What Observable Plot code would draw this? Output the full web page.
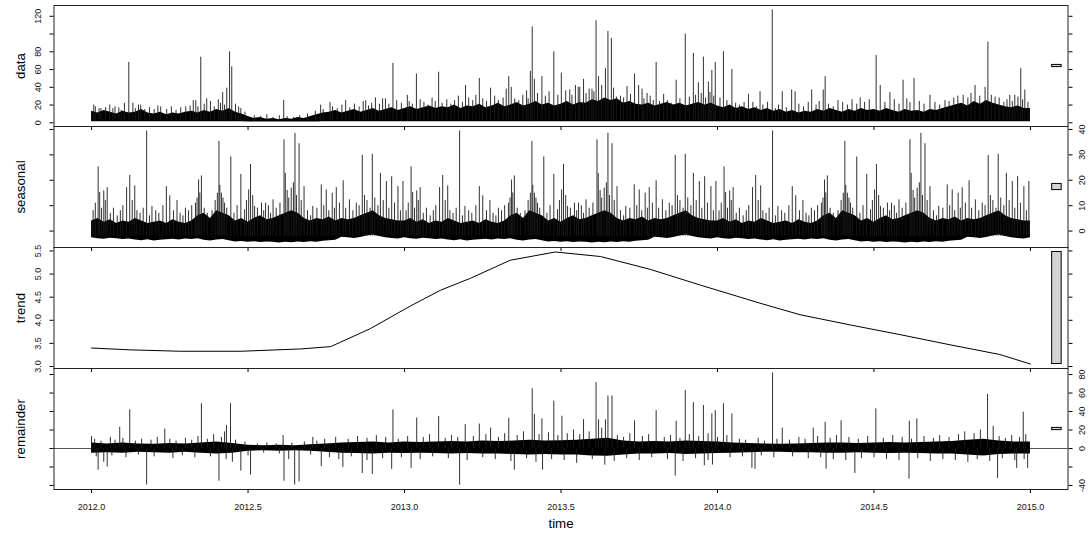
<!DOCTYPE html>
<html>
<head>
<meta charset="utf-8">
<script src="https://cdn.jsdelivr.net/npm/d3@7"></script>
<script src="https://cdn.jsdelivr.net/npm/@observablehq/plot@0.6"></script>
<style>
  body { margin: 0; background: #fff; font-family: "Liberation Sans", Arial, sans-serif; }
  #wrap { position: relative; width: 1091px; height: 539px; overflow: hidden; background: #fff; }
  .panel { position: absolute; left: 0; }
</style>
</head>
<body>
<div id="wrap"></div>
<script>
// ---------------- DATA ----------------
const xTicks = [2012.0, 2012.5, 2013.0, 2013.5, 2014.0, 2014.5, 2015.0];
const timeRange = [2012.0, 2015.0];

// "data" panel: dense core band, every 0.02 year from 2012.00 to 2015.00
const dataBandStart = 2012.0, dataBandStep = 0.02;
const dataBandHigh = [
  13,11,14,12,10,13,11,12,15,11,10,12,9,11,10,12,13,11,14,12,15,13,16,12,10,
  7,5,6,4,5,3.5,5,4,6,5,7,9,11,
  12,14,11,13,15,12,14,16,13,15,17,14,
  16,18,15,17,19,16,18,17,20,16,19,18,21,17,19,22,18,20,23,19,21,24,20,22,19,
  21,24,20,23,22,26,24,28,25,27,22,24,21,
  20,22,19,21,23,20,22,19,21,23,20,22,
  19,17,20,16,18,15,17,14,16,13,15,12,14,
  11,13,12,15,13,16,14,12,15,13,16,14,
  15,13,16,14,12,15,13,14,12,15,14,16,18,
  20,22,19,24,21,25,22,20,18,17,19,16,
  16];
const dataBandLowLevel = [1.3, 0.9, 1.3];               // bottom edge levels
const dataBandLowFrom  = [2012.0, 2012.5, 2012.74];     // where each level begins

// "data" panel: tall spikes (time, peak)
const dataSpikeTime = [2012.007,2012.030,2012.068,2012.087,2012.119,2012.132,2012.157,2012.221,2012.301,2012.333,
  2012.349,2012.368,2012.419,2012.432,2012.441,2012.448,2012.477,2012.614,2012.732,2012.762,
  2012.812,2012.876,2012.907,2012.939,2012.963,2013.009,2013.038,2013.109,2013.195,2013.239,
  2013.275,2013.333,2013.341,2013.402,2013.408,2013.415,2013.439,2013.477,2013.501,2013.528,
  2013.546,2013.560,2013.572,2013.599,2013.612,2013.620,2013.642,2013.650,2013.661,2013.677,
  2013.711,2013.735,2013.748,2013.759,2013.775,2013.804,2013.828,2013.868,2013.897,2013.923,
  2013.939,2013.955,2013.971,2013.982,2013.993,2014.019,2014.046,2014.099,2014.113,2014.136,
  2014.160,2014.175,2014.207,2014.237,2014.248,2014.301,2014.338,2014.344,2014.385,2014.456,
  2014.507,2014.520,2014.551,2014.593,2014.628,2014.679,2014.727,2014.768,2014.800,2014.823,
  2014.855,2014.864,2014.887,2014.934,2014.950,2014.969,2014.982];
const dataSpikeValue = [20,16,16,17,68,22,20,18,18,25,
  74,27,34,39,80,63,16,25,20,23,
  25,25,28,27,67,31,55,57,42,50,
  39,52,40,58,108,49,52,80,56,37,
  42,40,49,38,115,52,61,103,95,29,
  41,55,42,38,33,68,32,48,100,78,
  45,74,46,59,68,80,60,32,23,35,
  23,127.1,35,37,35,37,37,52,25,28,
  76,42,34,48,50,31,25,30,28,42,
  40,91,29,31,31,61,37];
// "data" panel: smaller spikes on the ragged top of the band
const dataMinorTime = [2012.012,2012.024,2012.045,2012.058,2012.075,2012.095,2012.105,2012.140,2012.150,2012.170,
  2012.185,2012.200,2012.212,2012.240,2012.255,2012.270,2012.285,2012.315,2012.325,2012.340,
  2012.360,2012.380,2012.392,2012.405,2012.412,2012.425,2012.460,2012.470,2012.490,2012.520,
  2012.540,2012.560,2012.580,2012.600,2012.625,2012.645,2012.665,2012.690,2012.715,2012.740,
  2012.770,2012.785,2012.800,2012.825,2012.840,2012.855,2012.868,2012.885,2012.895,2012.920,
  2012.930,2012.950,2012.975,2012.990,2013.015,2013.025,2013.050,2013.062,2013.075,2013.088,
  2013.098,2013.120,2013.135,2013.148,2013.160,2013.172,2013.185,2013.205,2013.218,2013.228,
  2013.250,2013.262,2013.288,2013.300,2013.315,2013.325,2013.352,2013.365,2013.378,2013.390,
  2013.395,2013.425,2013.450,2013.462,2013.490,2013.515,2013.535,2013.555,2013.580,2013.590,
  2013.605,2013.630,2013.668,2013.690,2013.700,2013.722,2013.765,2013.785,2013.795,2013.815,
  2013.840,2013.852,2013.880,2013.910,2013.930,2013.948,2013.962,2013.976,2013.988,2014.008,
  2014.030,2014.058,2014.070,2014.085,2014.125,2014.145,2014.185,2014.195,2014.220,2014.260,
  2014.275,2014.290,2014.315,2014.325,2014.355,2014.370,2014.400,2014.415,2014.430,2014.445,
  2014.470,2014.485,2014.535,2014.565,2014.580,2014.605,2014.615,2014.645,2014.660,2014.695,
  2014.710,2014.740,2014.755,2014.785,2014.810,2014.838,2014.875,2014.900,2014.915,2014.925,
  2014.942,2014.960,2014.975,2014.992];
const dataMinorValue = [18,16,17,20,18,14,22,16,20,15,
  17,15,19,15,18,14,17,19,25,18,
  21,24,18,26,22,20,21,18,12,8,
  7,9,6,8,7,6,8,10,13,15,
  18,16,20,17,21,18,24,19,22,21,
  27,21,25,22,24,21,26,23,20,28,
  24,22,26,21,25,30,23,28,25,31,
  27,24,30,25,28,38,27,25,31,36,
  27,33,30,35,31,36,31,40,33,38,
  35,42,39,30,28,32,27,30,25,24,
  25,22,27,29,31,33,28,34,30,28,
  25,22,20,23,18,20,16,20,17,21,
  18,23,20,24,21,18,23,20,26,21,
  23,26,23,26,21,27,23,24,21,23,
  20,24,28,31,33,30,31,28,23,26,
  24,29,26,23];

// "seasonal" panel: one-year periodic pattern, band every 0.02 of a year
const seasBandStep = 0.02;
const seasBandHigh = [4,5,3.5,4.5,3,4,3.5,5,4,3,
  3.5,4,3,4.5,3.5,3,4,6,7,5,
  8,7,6,4,5,3.5,5,6,4.5,5,
  6,7,8,7,5,4,5,4.5,5.5,4,
  5,4.5,5,6,7,8,6,5,4.5,4,
  4];
const seasBandLow = [-2.6,-3,-3.2,-2.8,-3,-3.3,-3.1,-3.5,-3.8,-3.4,
  -3.9,-3.6,-3.4,-3.2,-3.5,-3.1,-3.3,-3.0,-3.6,-3.9,
  -3.5,-3.3,-3.8,-4.3,-4.1,-4.4,-4.2,-4.5,-4.3,-4.4,
  -4.7,-4.4,-4.6,-4.3,-4.5,-4.2,-4.4,-4.0,-3.8,-3.6,
  -2.4,-2.6,-2.9,-2.5,-1.9,-1.5,-2.1,-2.6,-2.9,-3.1,
  -2.6];
const seasSpikePhase = [0.021,0.026,0.039,0.050,0.112,0.122,0.138,0.176,0.193,0.239,
  0.250,0.273,0.300,0.332,0.342,0.351,0.402,0.407,0.415,0.425,
  0.445,0.477,0.489,0.502,0.508,0.521,0.543,0.556,0.580,0.615,
  0.619,0.638,0.645,0.650,0.663,0.679,0.707,0.734,0.750,0.769,
  0.782,0.804,0.824,0.846,0.865,0.897,0.923,0.942,0.959,0.979,0.995];
const seasSpikeValue = [25.3,15.2,15.8,17.1,17.1,21.9,17.8,39.4,9.7,17.5,
  13.9,12.0,9.0,11.0,20.1,21.7,14.9,35.3,14.9,11.0,
  29.2,22.3,8.4,16.2,26.2,9.7,11.0,11.0,12.3,35.9,
  22.7,16.9,19.0,38.5,34.4,17.5,9.7,18.2,16.2,14.9,
  17.1,19.8,12.3,11.0,29.8,30.2,22.7,19.5,21.4,17.5,19.5];
const seasMinorPhase = [0.005,0.012,0.032,0.044,0.060,0.070,0.082,0.092,0.100,0.130,
  0.145,0.155,0.165,0.185,0.205,0.215,0.228,0.262,0.283,0.292,
  0.310,0.320,0.337,0.346,0.360,0.370,0.385,0.395,0.410,0.420,
  0.432,0.455,0.465,0.495,0.515,0.530,0.550,0.565,0.572,0.590,
  0.602,0.625,0.630,0.655,0.670,0.690,0.700,0.720,0.742,0.758,
  0.776,0.792,0.812,0.835,0.855,0.872,0.880,0.890,0.905,0.915,
  0.932,0.950,0.968,0.987];
const seasMinorValue = [8,11,9,12,7,9,6,8,10,12,
  8,7,9,6,8,7,10,8,7,6,
  8,10,13,15,9,7,8,12,18,13,
  9,7,10,12,14,9,8,10,7,9,
  11,16,13,14,12,8,6,9,10,8,
  9,11,9,8,10,14,12,9,13,10,
  12,9,11,8];

// "trend" panel
const trendTime = [2012.000,2012.125,2012.285,2012.477,2012.668,2012.764,2012.891,2013.019,2013.115,2013.211,
  2013.338,2013.482,2013.626,2013.786,2013.946,2014.136,2014.264,2014.424,2014.583,2014.743,2014.902,2015.000];
const trendValue = [3.40,3.36,3.33,3.33,3.38,3.43,3.82,4.31,4.65,4.91,
  5.30,5.478,5.38,5.10,4.76,4.37,4.12,3.90,3.69,3.47,3.26,3.054];

// "remainder" panel: dense band every 0.05 year
const remBandStep = 0.05;
const remBandHigh = [6,5,6,5,4.5,5.5,5,6,7,5.5,
  3.5,3,3.5,3,4,5,6,6.5,7,6,
  7,6.5,7,7.5,7,8,7.5,8,9,8,
  8.5,9,10,11,8,7,7.5,7,8,7.5,
  7,6,5.5,5,4.5,5,5.5,6,6,5.5,
  6,6.5,6,6.5,7,7.5,9,10,8,7,
  7];
const remBandLow = [-5,-4.5,-5,-4,-4.5,-5,-4,-5,-6,-5,
  -3,-2.5,-3,-2.5,-3,-4,-5,-5.5,-6,-5,
  -5.5,-5,-5.5,-6,-5.5,-6,-6,-6.5,-7,-6.5,
  -7,-7,-8,-8.5,-7,-6,-6,-5.5,-6.5,-6,
  -5.5,-5,-4.5,-4,-4,-4.5,-4.5,-5,-5,-4.5,
  -5,-5.5,-5,-5.5,-6,-6,-7,-8,-6.5,-6,
  -6];
const remSpikeTime = [2012.000,2012.090,2012.122,2012.234,2012.351,2012.431,2012.444,2012.612,2012.707,2012.963,
  2013.039,2013.109,2013.194,2013.239,2013.275,2013.333,2013.408,2013.415,2013.439,2013.477,
  2013.503,2013.572,2013.612,2013.620,2013.642,2013.650,2013.663,2013.735,2013.804,2013.868,
  2013.897,2013.923,2013.955,2013.982,2013.993,2014.019,2014.046,2014.176,2014.207,2014.306,
  2014.344,2014.395,2014.506,2014.613,2014.637,2014.863,2014.881,2014.977,
  2012.021,2012.039,2012.050,2012.176,2012.407,2012.477,2012.508,2012.615,2012.649,2012.663,
  2012.734,2012.803,2012.865,2012.897,2012.959,2013.021,2013.176,2013.351,2013.441,2013.865,
  2013.958,2013.984,2014.110,2014.120,2014.347,2014.439,2014.612,2014.895,2014.956,2014.991];
const remSpikeValue = [13,23,41.8,21,48.4,25,48.4,14,12,41.8,
  33,34.5,25.8,26.5,22,32.7,64.7,36.7,32,51.3,
  34.9,31.2,71.3,31,31,56.8,56.8,30,41,29.5,
  62.9,49.5,46.5,37.4,41,48.4,37.4,81.7,22,22,
  28.4,30,42.9,29.5,32,58.5,24,39.3,
  -23.4,-15,-20,-39.5,-35.4,-24.5,-28.8,-35.4,-39.5,-36,
  -19.7,-20.4,-27,-28,-22.6,-21.5,-39.5,-23.4,-23.4,-29.9,
  -18.6,-17.9,-21.5,-22.6,-22.3,-27,-33.2,-32.4,-21.5,-21.5];
const remMinorTime = [2012.010,2012.030,2012.060,2012.075,2012.100,2012.140,2012.160,2012.190,2012.210,2012.250,
  2012.270,2012.300,2012.320,2012.340,2012.370,2012.390,2012.415,2012.425,2012.460,2012.490,
  2012.530,2012.560,2012.590,2012.640,2012.680,2012.720,2012.745,2012.780,2012.820,2012.850,
  2012.880,2012.910,2012.940,2012.980,2013.010,2013.060,2013.080,2013.130,2013.150,2013.170,
  2013.220,2013.260,2013.300,2013.320,2013.360,2013.380,2013.430,2013.460,2013.490,2013.520,
  2013.540,2013.560,2013.590,2013.630,2013.680,2013.700,2013.720,2013.760,2013.780,2013.830,
  2013.850,2013.880,2013.910,2013.940,2013.970,2014.000,2014.030,2014.070,2014.090,2014.130,
  2014.150,2014.190,2014.230,2014.260,2014.280,2014.320,2014.360,2014.380,2014.420,2014.450,
  2014.480,2014.530,2014.560,2014.590,2014.620,2014.660,2014.690,2014.710,2014.740,2014.770,
  2014.790,2014.820,2014.840,2014.900,2014.920,2014.940,2014.965,2014.985,
  2012.015,2012.065,2012.110,2012.150,2012.200,2012.260,2012.290,2012.330,2012.380,2012.430,
  2012.450,2012.500,2012.550,2012.600,2012.630,2012.700,2012.760,2012.790,2012.830,2012.880,
  2012.930,2012.990,2013.050,2013.090,2013.140,2013.200,2013.250,2013.290,2013.340,2013.390,
  2013.420,2013.470,2013.510,2013.550,2013.600,2013.640,2013.670,2013.710,2013.750,2013.790,
  2013.840,2013.890,2013.930,2013.970,2014.040,2014.080,2014.140,2014.180,2014.240,2014.290,
  2014.330,2014.370,2014.410,2014.460,2014.500,2014.540,2014.580,2014.640,2014.680,2014.720,
  2014.760,2014.800,2014.830,2014.870,2014.910,2014.950,2014.980];
const remMinorValue = [10,8,12,9,11,8,10,9,12,10,
  8,11,9,13,10,15,12,18,9,7,
  5,6,5,6,7,8,10,12,10,13,
  11,14,12,10,13,12,15,11,14,12,
  13,15,12,16,14,18,15,17,14,16,
  20,15,18,22,14,12,16,13,15,12,
  14,11,15,13,16,12,14,10,9,11,
  8,10,9,12,10,13,11,14,12,10,
  13,11,14,12,10,13,11,14,12,15,
  18,16,20,13,11,14,12,15,
  -9,-8,-10,-7,-9,-11,-8,-10,-9,-12,
  -15,-8,-5,-6,-12,-7,-10,-12,-9,-13,
  -11,-10,-12,-9,-11,-13,-10,-12,-14,-11,
  -15,-12,-13,-16,-12,-18,-14,-11,-13,-10,
  -12,-14,-11,-13,-10,-9,-8,-10,-9,-11,
  -10,-12,-13,-11,-10,-12,-13,-11,-14,-12,
  -13,-15,-12,-14,-11,-13,-12];

const dataTicks = [0,20,40,60,80,100,120];
const dataTickLabels = ["0","20","40","60","80","","120"];
const seasTicks = [0,10,20,30,40];
const trendTicks = [3.0,3.5,4.0,4.5,5.0,5.5];
const remTicks = [-40,-20,0,20,40,60,80];
const remTickLabels = ["-40","","0","20","40","60","80"];

// ---------------- BUILD TABLES ----------------
const years = [2012, 2013, 2014];
const zipTV = (T, V) => T.map((t, i) => ({t, v: V[i]}));
const round = t => Math.round(t * 1000) / 1000;
const lowAt = t => { let k = 0; dataBandLowFrom.forEach((f, j) => { if (t >= f - 1e-9) k = j; }); return dataBandLowLevel[k]; };
const dataBand = dataBandHigh.map((hi, i) => { const t = round(dataBandStart + i * dataBandStep); return {t, lo: lowAt(t), hi}; });
const dataSpikes = zipTV(dataSpikeTime, dataSpikeValue).concat(zipTV(dataMinorTime, dataMinorValue));
const seasBand = years.flatMap(y => seasBandHigh.map((hi, i) => ({t: y + i * seasBandStep, lo: seasBandLow[i], hi})))
  .filter(d => d.t <= 2015.0001);
const seasSpikes = years.flatMap(y => zipTV(seasSpikePhase, seasSpikeValue).concat(zipTV(seasMinorPhase, seasMinorValue))
  .map(d => ({t: y + d.t, v: d.v})));
const trend = zipTV(trendTime, trendValue);
const remBand = remBandHigh.map((hi, i) => ({t: round(2012 + i * remBandStep), lo: remBandLow[i], hi}));
const remSpikes = zipTV(remSpikeTime, remSpikeValue).concat(zipTV(remMinorTime, remMinorValue));

const extent = arrs => d3.extent(arrs.flat());
const ranges = {
  data: extent([dataBand.map(d => d.lo), dataBandHigh, dataSpikeValue, dataMinorValue]),
  seas: extent([seasBandLow, seasBandHigh, seasSpikeValue, seasMinorValue]),
  trend: extent([trendValue]),
  rem: extent([remBandLow, remBandHigh, remSpikeValue, remMinorValue])
};
const pad = r => { const d = r[1] - r[0]; return [r[0] - 0.04 * d, r[1] + 0.04 * d]; };
const xSpan = timeRange[1] - timeRange[0];
const xDomain = [timeRange[0] - 0.04 * xSpan, timeRange[1] + 0.04 * xSpan];
const mx = d3.min(Object.values(ranges), r => r[1] - r[0]);
const dxBar = (xDomain[1] - xDomain[0]) / 64;
function rangeBar(r) {
  const c = (r[0] + r[1]) / 2;
  return Plot.rect([{}], {x1: xDomain[1] - dxBar, x2: xDomain[1] - 0.4 * dxBar,
    y1: c - mx / 2, y2: c + mx / 2, fill: "#d3d3d3", stroke: "black", strokeWidth: 1});
}

// ---------------- LAYOUT ----------------
const W = 1091, ML = 53.5, MR = 23.5;
const tops = [5, 126, 247, 368];
const PH = 121;
const FONT = "Liberation Sans, Arial, sans-serif";
const wrap = document.getElementById("wrap");

function panel(i, yDomain, marks) {
  const svg = Plot.plot({
    width: W, height: PH,
    marginLeft: ML, marginRight: MR, marginTop: 0, marginBottom: 0,
    x: {domain: xDomain},
    y: {domain: yDomain},
    style: {background: "transparent", overflow: "visible", fontFamily: FONT, fontSize: "9px", color: "black"},
    marks
  });
  svg.classList.add("panel");
  svg.style.position = "absolute";
  svg.style.top = tops[i] + "px";
  svg.style.left = "0px";
  wrap.appendChild(svg);
}

const tickSize = 4;
const blank = () => "";
function commonAxes(ticks) {
  return [
    Plot.axisY({anchor: "left", ticks, tickSize, tickFormat: blank, label: null, tickPadding: 0}),
    Plot.axisY({anchor: "right", ticks, tickSize, tickFormat: blank, label: null, tickPadding: 0}),
    Plot.axisX({anchor: "bottom", ticks: xTicks, tickSize, tickFormat: blank, label: null, tickPadding: 0})
  ];
}
function leftLabels(ticks, labels) {
  return Plot.text(ticks, {y: d => d, text: (d, i) => labels[i], frameAnchor: "left", dx: -15.5,
    rotate: -90, textAnchor: "middle", lineAnchor: "middle", fontSize: 9, fill: "#111"});
}
function rightLabels(ticks, labels) {
  return Plot.text(ticks, {y: d => d, text: (d, i) => labels[i], frameAnchor: "right", dx: 14.5,
    rotate: -90, textAnchor: "middle", lineAnchor: "middle", fontSize: 9, fill: "#111"});
}
function title(name) {
  return Plot.text([name], {frameAnchor: "left", dx: -33, rotate: -90, textAnchor: "middle",
    lineAnchor: "middle", fontSize: 13.3, fill: "black"});
}
const spikeStyle = {stroke: "#1a1a1a", strokeWidth: 0.9};

// Panel 1: data
panel(0, pad(ranges.data), [
  Plot.areaY(dataBand, {x: "t", y1: "lo", y2: "hi", fill: "black"}),
  Plot.ruleX(dataSpikes, {x: "t", y1: 2, y2: "v", ...spikeStyle}),
  rangeBar(ranges.data),
  ...commonAxes(dataTicks),
  leftLabels(dataTicks, dataTickLabels),
  title("data"),
  Plot.frame({stroke: "#222"})
]);

// Panel 2: seasonal
panel(1, pad(ranges.seas), [
  Plot.areaY(seasBand, {x: "t", y1: "lo", y2: "hi", fill: "black"}),
  Plot.ruleX(seasSpikes, {x: "t", y1: -2, y2: "v", ...spikeStyle}),
  rangeBar(ranges.seas),
  ...commonAxes(seasTicks),
  rightLabels(seasTicks, seasTicks.map(String)),
  title("seasonal"),
  Plot.frame({stroke: "#222"})
]);

// Panel 3: trend
panel(2, pad(ranges.trend), [
  Plot.line(trend, {x: "t", y: "v", stroke: "black", strokeWidth: 1}),
  rangeBar(ranges.trend),
  ...commonAxes(trendTicks),
  leftLabels(trendTicks, trendTicks.map(d => d.toFixed(1))),
  title("trend"),
  Plot.frame({stroke: "#222"})
]);

// Panel 4: remainder
panel(3, pad(ranges.rem), [
  Plot.ruleY([0], {stroke: "#555", strokeWidth: 1}),
  Plot.areaY(remBand, {x: "t", y1: "lo", y2: "hi", fill: "black"}),
  Plot.ruleX(remSpikes, {x: "t", y1: 0, y2: "v", ...spikeStyle}),
  rangeBar(ranges.rem),
  ...commonAxes(remTicks),
  rightLabels(remTicks, remTickLabels),
  title("remainder"),
  Plot.text(xTicks, {x: d => d, text: d => d.toFixed(1), frameAnchor: "bottom", dy: 18,
    lineAnchor: "middle", textAnchor: "middle", fontSize: 9, fill: "#111"}),
  Plot.text(["time"], {frameAnchor: "bottom", dy: 34, lineAnchor: "middle", textAnchor: "middle",
    fontSize: 13.3, fill: "black"}),
  Plot.frame({stroke: "#222"})
]);
</script>
</body>
</html>
